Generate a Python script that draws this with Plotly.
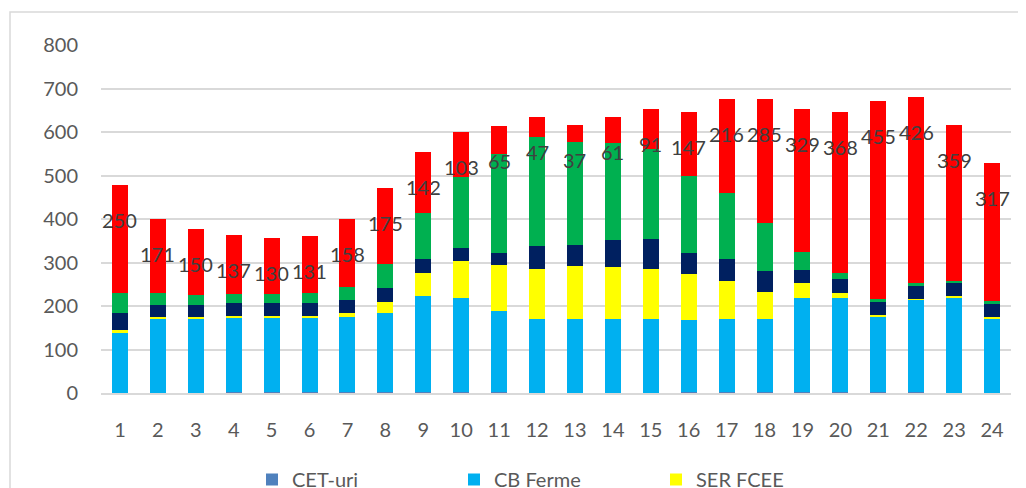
import plotly.graph_objects as go

hours = ["1", "2", "3", "4", "5", "6", "7", "8", "9", "10", "11", "12",
         "13", "14", "15", "16", "17", "18", "19", "20", "21", "22", "23", "24"]

cet_uri = [0, 0, 0, 3, 3, 3, 3, 3, 3, 3, 3, 0, 0, 0, 0, 3, 3, 3, 3, 3, 3, 3, 0, 0]
cb_ferme = [140, 172, 172, 171, 171, 171, 171, 182, 219, 215, 185, 169,
            169, 169, 169, 164, 166, 168, 215, 215, 171, 212, 220, 171]
ser_fcee = [4, 2, 2, 2, 2, 2, 9, 25, 55, 85, 106, 117,
            122, 120, 115, 106, 88, 62, 34, 13, 5, 2, 2, 3]
cb_hidro = [39, 29, 29, 30, 30, 30, 30, 32, 32, 30, 29, 51,
            50, 62, 71, 48, 50, 48, 30, 30, 30, 30, 30, 30]
ser_foto = [46, 27, 23, 21, 21, 25, 30, 55, 104, 163, 226, 251,
            237, 223, 207, 179, 152, 110, 42, 16, 7, 7, 5, 7]
rezerva = [250, 171, 150, 137, 130, 131, 158, 175, 142, 103, 65, 47,
           37, 61, 91, 147, 216, 285, 329, 368, 455, 426, 359, 317]

series = [
    ("CET-uri", cet_uri, "#4F81BD", "legend"),
    ("CB Ferme", cb_ferme, "#00B0F0", "legend"),
    ("SER FCEE", ser_fcee, "#FFFF00", "legend"),
    ("CB Hidro", cb_hidro, "#002060", "legend2"),
    ("SER Fotovoltaic", ser_foto, "#00B050", "legend2"),
    ("Rezerva", rezerva, "#FF0000", "legend2"),
]

FONT = "Lato"
FS = 20
OFF = 8  # page body margin of the html page
W, H = 1026 - OFF, 488 - OFF
L, R, T, B = 101 - OFF, 15, 45 - OFF, 95
pw, ph = W - L - R, H - T - B

xnum = [int(h) for h in hours]

fig = go.Figure()
for name, vals, col, lg in series:
    fig.add_trace(go.Bar(x=xnum, y=vals, name=name, marker_color=col,
                         marker_line_width=0, legend=lg))

totals = [sum(v) for v in zip(cet_uri, cb_ferme, ser_fcee, cb_hidro, ser_foto, rezerva)]
for xv, tot, lab in zip(xnum, totals, rezerva):
    fig.add_annotation(x=xv, y=tot, text=str(lab), showarrow=False,
                       yanchor="middle", yshift=-35,
                       font=dict(family=FONT, size=FS, color="#404040"))

# outer chart frame (light grey border, cropped on right/bottom)
fx0 = (10 - OFF - L) / pw
fy1 = (H - B - (12 - OFF)) / ph
fig.add_shape(type="rect", xref="paper", yref="paper", x0=fx0, x1=1.3,
              y0=-0.6, y1=fy1, line=dict(color="#D9D9D9", width=1.5),
              fillcolor="rgba(0,0,0,0)", layer="below")

lx = (252 - OFF - L) / pw
fig.update_layout(
    width=W, height=H,
    margin=dict(l=L, r=R, t=T, b=B, autoexpand=False),
    barmode="stack", bargap=0.578,
    plot_bgcolor="white", paper_bgcolor="white",
    font=dict(family=FONT, size=FS, color="#595959"),
    showlegend=True,
    legend=dict(orientation="h", x=lx, xanchor="left",
                y=(H - B - (460 - OFF)) / ph, yanchor="top", traceorder="normal",
                entrywidth=157, font=dict(family=FONT, size=FS, color="#595959")),
    legend2=dict(orientation="h", x=lx, xanchor="left",
                 y=(H - B - (530 - OFF)) / ph, yanchor="top", traceorder="normal",
                 entrywidth=157, font=dict(family=FONT, size=FS, color="#595959")),
    xaxis=dict(range=[0.5, 24.5], tickmode="array", tickvals=xnum, ticktext=hours,
               showgrid=False, zeroline=False, showline=True, linecolor="#D9D9D9",
               linewidth=1.5, ticks="", ticklabelstandoff=18,
               tickfont=dict(family=FONT, size=FS, color="#595959")),
    yaxis=dict(range=[0, 800], dtick=100, showgrid=True, gridcolor="#D9D9D9",
               gridwidth=1.5, zeroline=False, showline=False, ticks="",
               ticklabelstandoff=22,
               tickfont=dict(family=FONT, size=FS, color="#595959")),
)

fig.write_html("out.html")
